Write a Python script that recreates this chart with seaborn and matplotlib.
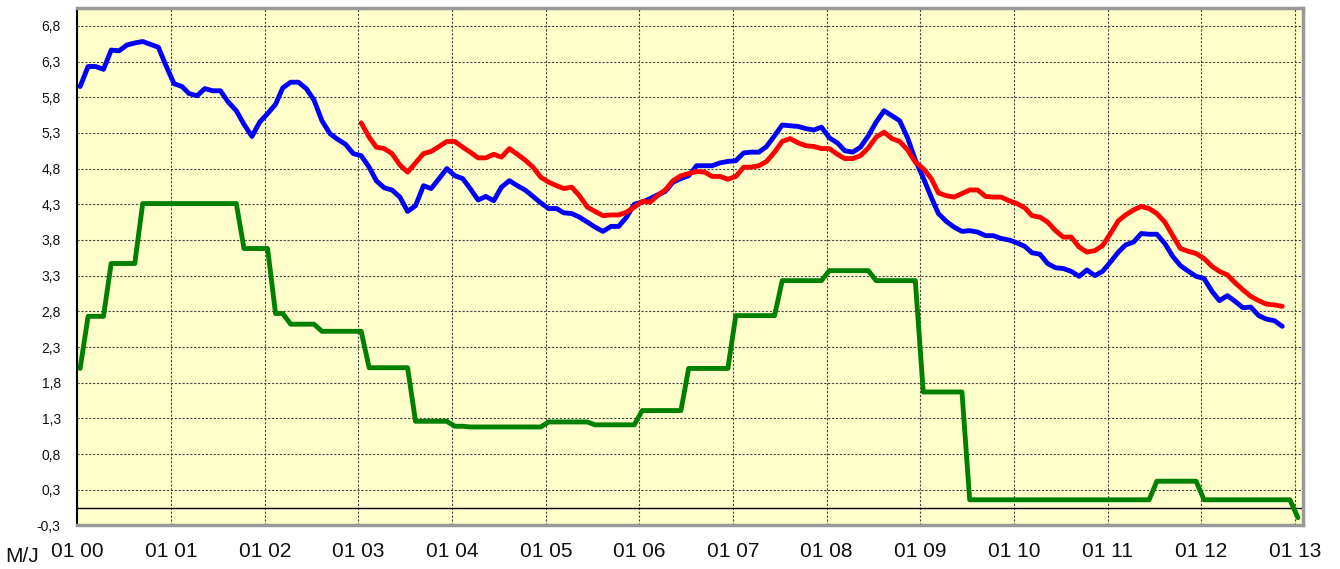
import pandas as pd
import numpy as np
import matplotlib
matplotlib.use("Agg")
import matplotlib.pyplot as plt
import matplotlib.dates as mdates
import seaborn as sns

# monthly values starting Jan 2000
blue_vals = [
    5.90, 6.18, 6.18, 6.14, 6.41, 6.40, 6.48, 6.51, 6.53, 6.49, 6.45, 6.19,
    5.94, 5.90, 5.80, 5.77, 5.87, 5.84, 5.84, 5.68, 5.56, 5.37, 5.20, 5.40,
    5.52, 5.65, 5.88, 5.96, 5.96, 5.87, 5.71, 5.42, 5.24, 5.16, 5.09, 4.96,
    4.93, 4.77, 4.58, 4.48, 4.45, 4.35, 4.15, 4.23, 4.51, 4.47, 4.61, 4.75,
    4.65, 4.61, 4.47, 4.31, 4.36, 4.30, 4.49, 4.58, 4.51, 4.45, 4.36, 4.27,
    4.19, 4.19, 4.13, 4.12, 4.07, 4.00, 3.93, 3.87, 3.94, 3.94, 4.07, 4.25,
    4.28, 4.33, 4.38, 4.43, 4.56, 4.61, 4.65, 4.79, 4.79, 4.79, 4.83, 4.85,
    4.86, 4.97, 4.98, 4.98, 5.06, 5.21, 5.36, 5.35, 5.34, 5.31, 5.29, 5.33,
    5.18, 5.11, 5.00, 4.98, 5.05, 5.21, 5.40, 5.56, 5.49, 5.42, 5.18, 4.87,
    4.62, 4.35, 4.12, 4.01, 3.93, 3.87, 3.88, 3.86, 3.81, 3.81, 3.77, 3.75,
    3.71, 3.66, 3.57, 3.55, 3.42, 3.36, 3.35, 3.31, 3.24, 3.33, 3.25, 3.31,
    3.44, 3.58, 3.68, 3.72, 3.84, 3.83, 3.83, 3.70, 3.52, 3.39, 3.31, 3.24,
    3.21, 3.03, 2.90, 2.97, 2.89, 2.80, 2.81, 2.69, 2.64, 2.62, 2.54,
]

# red series starts Jan 2003 (month index 36)
red_start = 36
red_vals = [
    5.39, 5.19, 5.05, 5.03, 4.96, 4.80, 4.70, 4.83, 4.96, 4.99, 5.06, 5.13,
    5.13, 5.05, 4.98, 4.90, 4.90, 4.95, 4.91, 5.03, 4.95, 4.87, 4.77, 4.63,
    4.56, 4.51, 4.47, 4.49, 4.37, 4.21, 4.15, 4.09, 4.10, 4.10, 4.14, 4.21,
    4.29, 4.28, 4.37, 4.45, 4.58, 4.65, 4.68, 4.71, 4.70, 4.64, 4.64, 4.60,
    4.64, 4.77, 4.77, 4.79, 4.85, 4.98, 5.13, 5.17, 5.11, 5.07, 5.06, 5.03,
    5.03, 4.95, 4.89, 4.89, 4.93, 5.04, 5.19, 5.26, 5.17, 5.13, 5.01, 4.84,
    4.75, 4.61, 4.41, 4.37, 4.35, 4.40, 4.45, 4.45, 4.36, 4.35, 4.35, 4.30,
    4.26, 4.20, 4.09, 4.07, 4.00, 3.88, 3.79, 3.79, 3.65, 3.58, 3.60, 3.67,
    3.84, 4.02, 4.10, 4.17, 4.22, 4.19, 4.12, 4.00, 3.81, 3.63, 3.59, 3.56,
    3.49, 3.38, 3.31, 3.26, 3.15, 3.05, 2.96, 2.90, 2.85, 2.84, 2.82,
]

green_vals = [
    1.95, 2.68, 2.68, 2.68, 3.42, 3.42, 3.42, 3.42, 4.26, 4.26, 4.26, 4.26,
    4.26, 4.26, 4.26, 4.26, 4.26, 4.26, 4.26, 4.26, 4.26, 3.63, 3.63, 3.63,
    3.63, 2.72, 2.72, 2.57, 2.57, 2.57, 2.57, 2.47, 2.47, 2.47, 2.47, 2.47,
    2.47, 1.96, 1.96, 1.96, 1.96, 1.96, 1.96, 1.21, 1.21, 1.21, 1.21, 1.21,
    1.14, 1.14, 1.13, 1.13, 1.13, 1.13, 1.13, 1.13, 1.13, 1.13, 1.13, 1.13,
    1.20, 1.20, 1.20, 1.20, 1.20, 1.20, 1.16, 1.16, 1.16, 1.16, 1.16, 1.16,
    1.36, 1.36, 1.36, 1.36, 1.36, 1.36, 1.95, 1.95, 1.95, 1.95, 1.95, 1.95,
    2.69, 2.69, 2.69, 2.69, 2.69, 2.69, 3.18, 3.18, 3.18, 3.18, 3.18, 3.18,
    3.32, 3.32, 3.32, 3.32, 3.32, 3.32, 3.18, 3.18, 3.18, 3.18, 3.18, 3.18,
    1.62, 1.62, 1.62, 1.62, 1.62, 1.62, 0.11, 0.11, 0.11, 0.11, 0.11, 0.11,
    0.11, 0.11, 0.11, 0.11, 0.11, 0.11, 0.11, 0.11, 0.11, 0.11, 0.11, 0.11,
    0.11, 0.11, 0.11, 0.11, 0.11, 0.11, 0.37, 0.37, 0.37, 0.37, 0.37, 0.37,
    0.11, 0.11, 0.11, 0.11, 0.11, 0.11, 0.11, 0.11, 0.11, 0.11, 0.11, 0.11,
    -0.14,
]

ytick_labels = ["-0,3", "0,3", "0,8", "1,3", "1,8", "2,3", "2,8", "3,3",
                "3,8", "4,3", "4,8", "5,3", "5,8", "6,3", "6,8"]
axis_label = "M/J"

# build long-form frame; points sit a little into each month
dates = pd.date_range("2000-01-01", periods=len(green_vals), freq="MS") + pd.Timedelta(days=11)
parts = [
    pd.DataFrame({"date": dates, "value": green_vals, "series": "green"}),
    pd.DataFrame({"date": dates[:len(blue_vals)], "value": blue_vals, "series": "blue"}),
    pd.DataFrame({"date": dates[red_start:red_start + len(red_vals)], "value": red_vals, "series": "red"}),
]
df = pd.concat(parts, ignore_index=True)

sns.set_style("white")
plt.rcParams["font.family"] = ["Liberation Sans", "DejaVu Sans"]

fig = plt.figure(figsize=(13.4, 5.69), dpi=100)
ax = fig.add_axes([0.0577, 0.0765, 0.9147, 0.9095])
ax.set_facecolor("#FFFFCC")

sns.lineplot(
    data=df, x="date", y="value", hue="series",
    hue_order=["green", "blue", "red"],
    palette={"green": "#008000", "blue": "#0000FF", "red": "#FF0000"},
    estimator=None, linewidth=3.5, legend=False, ax=ax,
    solid_capstyle="round", solid_joinstyle="round",
)

ax.axhline(0, color="black", lw=1.0, zorder=1)

ax.set_xlim(pd.Timestamp("2000-01-01"), pd.Timestamp("2013-02-01"))
ax.set_ylim(-0.25, 7.0)
ax.set_yticks(np.arange(-0.25, 7.0, 0.5))
ax.set_yticklabels(ytick_labels)
ax.xaxis.set_major_locator(mdates.YearLocator())
ax.xaxis.set_major_formatter(mdates.DateFormatter("%m %y"))

ax.grid(True, color="#444444", lw=0.8, ls=(0, (2, 1.5)), zorder=0)
ax.set_axisbelow(True)
ax.tick_params(axis="y", length=0, pad=12, labelsize=10, colors="#111111")
ax.tick_params(axis="x", length=0, pad=12, labelsize=15, colors="#111111")
ax.set_xlabel("")
ax.set_ylabel("")

for side in ["top", "right", "bottom"]:
    ax.spines[side].set_color("#999999")
    ax.spines[side].set_linewidth(2.5)
ax.spines["left"].set_color("black")
ax.spines["left"].set_linewidth(1.5)

fig.text(22 / 1340, 1 - 557 / 569, axis_label, fontsize=15, ha="center", va="center", color="#111111")

fig.savefig("out.png", dpi=100)
